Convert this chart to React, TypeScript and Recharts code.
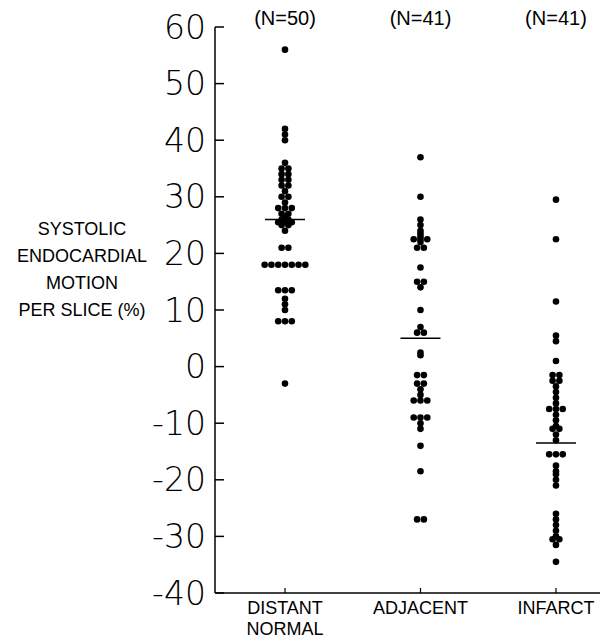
import { ScatterChart, Scatter, XAxis, YAxis } from 'recharts';

const categories = [['DISTANT', 'NORMAL'], ['ADJACENT'], ['INFARCT']];

const distantNormal = [
  56, 42, 41, 40, 36, 35, 35, 34, 34, 33, 33, 32, 32, 31, 30, 30, 29, 28, 28, 28,
  27, 27, 26.5, 26, 26, 25.5, 25.5, 25.5, 25, 25, 24, 21, 21,
  18, 18, 18, 18, 18, 18, 18, 13.5, 13.5, 13.5, 12, 11, 10, 8, 8, 8, -3,
];
const adjacent = [
  37, 30, 26, 25, 24, 23.5, 23, 22.5, 22.5, 22.5, 22, 21, 21, 17.5, 15, 15, 14, 10,
  7, 6, 6, 2.5, 2, -1.5, -1.5, -3, -3, -4, -5, -6, -6, -6, -9, -9, -9, -10, -11,
  -14, -18.5, -27, -27,
];
const infarct = [
  29.5, 22.5, 11.5, 5.5, 4.5, 1, -1.5, -1.5, -2.5, -2.5, -3.5, -4.5, -5.5, -6.5,
  -7.5, -7.5, -7.5, -8.5, -9.5, -10.5, -11, -11, -12, -13, -15.5, -15.5, -15.5,
  -17.5, -18.5, -19, -20, -21, -26, -27, -28, -29, -30, -30.5, -30.5, -31.5, -34.5,
];
const groupMeans = [26, 5, -13.5];
const yTicks = [60, 50, 40, 30, 20, 10, 0, -10, -20, -30, -40];

const groups = [distantNormal, adjacent, infarct];
const catTicks = [1, 2, 3];
const xDomain = [0.4834, 3.325];

// spread equal values side by side, like the hand-plotted dots
function swarm(values: number[], pos: number) {
  const counts = new Map<number, number>();
  values.forEach(v => counts.set(v, (counts.get(v) || 0) + 1));
  const seen = new Map<number, number>();
  return values.map(v => {
    const n = counts.get(v)!;
    const k = seen.get(v) || 0;
    seen.set(v, k + 1);
    return { x: pos + (k - (n - 1) / 2) * 0.05, y: v };
  });
}

const Dot = (props: any) => <circle cx={props.cx} cy={props.cy} r={3.3} fill="#000" />;

const MeanBar = (props: any) => (
  <line x1={props.cx - 20} x2={props.cx + 20} y1={props.cy} y2={props.cy} stroke="#000" strokeWidth={1.5} />
);

const YTick = ({ x, y, payload }: any) => (
  <g>
    <line x1={x + 8} x2={x + 17} y1={y} y2={y} stroke="#000" strokeWidth={1.5} />
    <text
      x={x - 1}
      y={y}
      textAnchor="end"
      dominantBaseline="central"
      fontFamily="'DejaVu Sans', sans-serif"
      fontWeight={200}
      fontSize={33}
      fill="#000"
    >
      {payload.value}
    </text>
  </g>
);

const CatTick = ({ x, y, payload }: any) => {
  const lines = categories[payload.value - 1] || [];
  return (
    <g>
      <line x1={x} x2={x} y1={y} y2={y - 5} stroke="#000" strokeWidth={1.2} />
      {lines.map((t, i) => (
        <text
          key={t}
          x={x}
          y={y + 21 + i * 21}
          textAnchor="middle"
          fontFamily="'Liberation Sans', Arial, sans-serif"
          fontSize={18}
          fill="#000"
        >
          {t}
        </text>
      ))}
    </g>
  );
};

const NTick = ({ x, y, payload }: any) => (
  <text
    x={x}
    y={y - 2}
    textAnchor="middle"
    fontFamily="'Liberation Sans', Arial, sans-serif"
    fontSize={20}
    fill="#000"
  >
    {`(N=${groups[payload.value - 1].length})`}
  </text>
);

export default function App() {
  return (
    <div style={{ position: 'absolute', left: 0, top: 0, width: 600, height: 641, background: '#fff' }}>
      <div
        style={{
          position: 'absolute',
          left: 2,
          top: 216,
          width: 160,
          textAlign: 'center',
          fontFamily: "'Liberation Sans', Arial, sans-serif",
          fontSize: 18,
          lineHeight: '27px',
          color: '#000',
        }}
      >
        SYSTOLIC
        <br />
        ENDOCARDIAL
        <br />
        MOTION
        <br />
        PER SLICE (%)
      </div>
      <ScatterChart width={600} height={641} margin={{ top: 0, right: 0, bottom: 0, left: 0 }}>
        <XAxis
          xAxisId="bottom"
          type="number"
          dataKey="x"
          domain={xDomain}
          ticks={catTicks}
          height={48}
          allowDataOverflow
          axisLine={{ stroke: '#000', strokeWidth: 1.5 }}
          tickLine={false}
          tickSize={0}
          tickMargin={0}
          tick={<CatTick />}
        />
        <XAxis
          xAxisId="top"
          orientation="top"
          type="number"
          dataKey="x"
          domain={xDomain}
          ticks={catTicks}
          height={27}
          allowDataOverflow
          axisLine={false}
          tickLine={false}
          tickSize={0}
          tickMargin={0}
          tick={<NTick />}
        />
        <YAxis
          type="number"
          dataKey="y"
          domain={[-40, 60]}
          ticks={yTicks}
          width={215}
          allowDataOverflow
          axisLine={{ stroke: '#000', strokeWidth: 1.5 }}
          tickLine={false}
          tickSize={0}
          tickMargin={8}
          tick={<YTick />}
        />
        {groups.map((g, i) => (
          <Scatter key={i} xAxisId="bottom" data={swarm(g, i + 1)} shape={<Dot />} isAnimationActive={false} />
        ))}
        <Scatter
          xAxisId="bottom"
          data={groupMeans.map((m, i) => ({ x: i + 1, y: m }))}
          shape={<MeanBar />}
          isAnimationActive={false}
        />
      </ScatterChart>
    </div>
  );
}
